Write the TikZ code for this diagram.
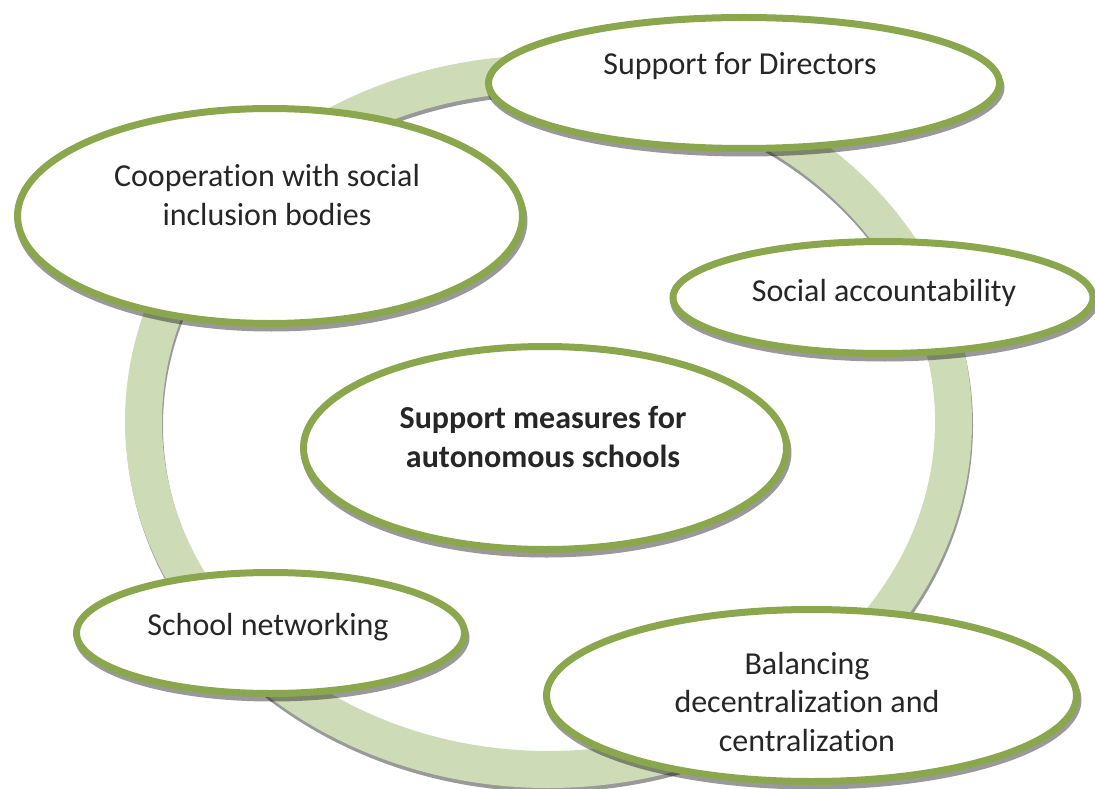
\documentclass[tikz,border=0pt]{standalone}
\usepackage{fontspec}
\setmainfont{Carlito}[Ligatures=NoCommon]
\usepackage{tikz}
\usetikzlibrary{shapes.geometric}

\begin{document}
\begin{tikzpicture}[x=1pt,y=-1pt,
    burbuja/.style={ellipse, draw=verde, line width=7pt, fill=white, inner sep=0pt},
    sombra/.style={fill=black, fill opacity=0.4},
    texto/.style={font=\fontsize{32}{38.5}\selectfont, text=tinta, align=center}]
    % Colores
    \definecolor{verde}{RGB}{138,167,78}
    \definecolor{anillo}{RGB}{205,220,183}
    \definecolor{tinta}{RGB}{38,38,38}
    \useasboundingbox (0,0) rectangle (1095,789);

    % Anillo de fondo con su sombra
    \draw[black, draw opacity=0.4, line width=37pt] (549.5,425.5) ellipse [x radius=405, y radius=348];
    \draw[anillo, line width=37pt] (548.5,421.5) ellipse [x radius=405, y radius=348];

    % Support for Directors
    \fill[sombra] (745.5,87.5) ellipse [x radius=259, y radius=69];
    \node[burbuja, minimum width=511, minimum height=131] (dirs) at (744,83) {};
    \node[texto] (tdirs) at (740,66) {Support for Directors};

    % Cooperation
    \fill[sombra] (271.5,220.5) ellipse [x radius=256, y radius=111];
    \node[burbuja, minimum width=505, minimum height=215] (coop) at (270,216) {};
    \node[texto] (tcoop) at (267,195) {Cooperation with social\\inclusion bodies};

    % Social accountability
    \fill[sombra] (884.5,302) ellipse [x radius=214, y radius=59.5];
    \node[burbuja, minimum width=420, minimum height=112] (social) at (883,297.5) {};
    \node[texto] (tsocial) at (884,293) {Social accountability};

    % Centro
    \fill[sombra] (546.5,452.5) ellipse [x radius=245, y radius=105];
    \node[burbuja, minimum width=483, minimum height=203] (centro) at (545,448) {};
    \node[texto, font=\fontsize{32}{38.5}\selectfont\bfseries] (tcentro) at (543,437) {Support measures for\\autonomous schools};

    % School networking
    \fill[sombra] (272,637.5) ellipse [x radius=197.5, y radius=64];
    \node[burbuja, minimum width=388, minimum height=121] (redes) at (270.5,633) {};
    \node[texto] (tredes) at (268,627) {School networking};

    % Balancing
    \fill[sombra] (813,700) ellipse [x radius=268.5, y radius=89.5];
    \node[burbuja, minimum width=530, minimum height=172] (balance) at (811.5,695.5) {};
    \node[texto] (tbalance) at (807,702) {Balancing\\decentralization and\\centralization};
\end{tikzpicture}
\end{document}
